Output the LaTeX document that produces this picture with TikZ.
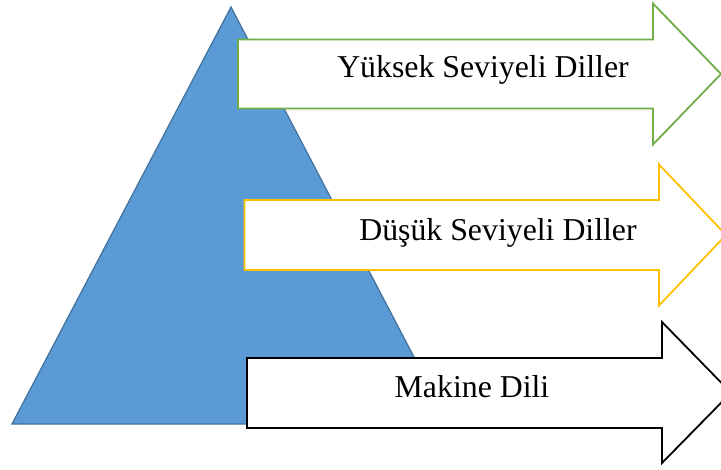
\documentclass[tikz,border=0pt]{standalone}
\usepackage{fontspec}
\setmainfont{Liberation Serif}
\definecolor{triblue}{HTML}{5B9BD5}
\definecolor{triedge}{HTML}{41719C}
\definecolor{agreen}{HTML}{70AD47}
\definecolor{ayellow}{HTML}{FFC000}
\tikzset{
  arrowshape/.style={fill=white, line width=1.8pt, line join=miter},
  lbl/.style={anchor=base, inner sep=0pt, font=\fontsize{31.8}{38}\selectfont, text=black}
}
\begin{document}
\begin{tikzpicture}[x=1pt,y=-1pt]
\useasboundingbox (0,0) rectangle (721,470);
\fill[white] (0,0) rectangle (721,470);
% pyramid
\draw[fill=triblue, draw=triedge, line width=1.2pt, line join=miter]
  (231,7) -- (449,424) -- (12,424) -- cycle;
% green arrow
\draw[arrowshape, draw=agreen]
  (238,39.5) -- (653,39.5) -- (653,3.5) -- (721,74) -- (653,144.5) -- (653,108.5) -- (238,108.5) -- cycle;
% yellow arrow
\draw[arrowshape, draw=ayellow]
  (244.5,200) -- (659,200) -- (659,164.5) -- (726,235) -- (659,305.5) -- (659,270) -- (244.5,270) -- cycle;
% black arrow
\draw[arrowshape, draw=black]
  (247,358) -- (662,358) -- (662,322) -- (731,392.7) -- (662,463) -- (662,428) -- (247,428) -- cycle;
% labels
\node[lbl] (high) at (483,78) {Yüksek Seviyeli Diller};
\node[lbl] (low) at (498,241) {Düşük Seviyeli Diller};
\node[lbl] (mach) at (472,398) {Makine Dili};
\end{tikzpicture}
\end{document}
